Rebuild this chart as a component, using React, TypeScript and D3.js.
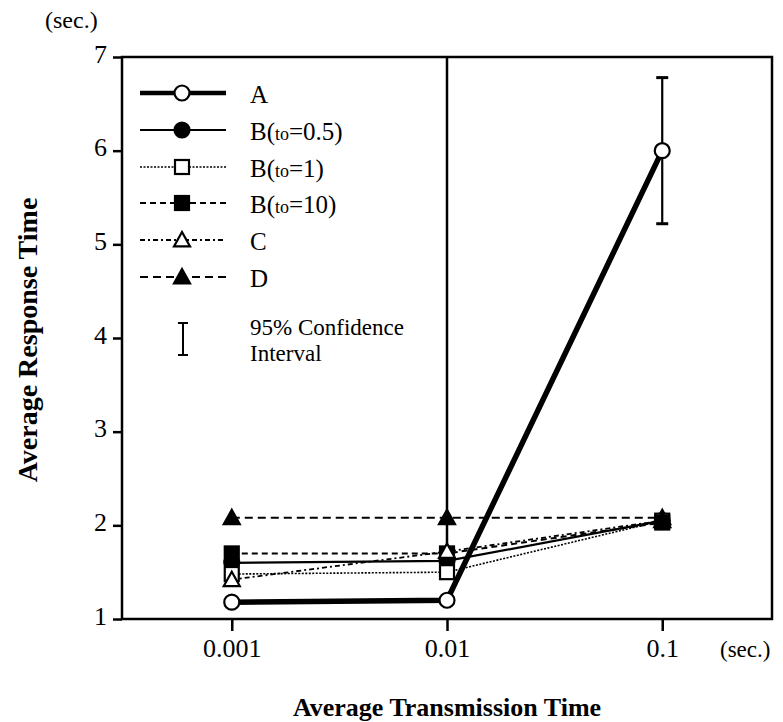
import React, { useEffect, useRef } from 'react';
import * as d3 from 'd3';

// Average transmission time (sec.)
const xValues = [0.001, 0.01, 0.1];
const xTickLabels = ['0.001', '0.01', '0.1'];
const yTicks = [1, 2, 3, 4, 5, 6, 7];

// Average response time (sec.) per scheme
const seriesA = [1.18, 1.2, 6.0];
const seriesB05 = [1.6, 1.62, 2.05];
const seriesB1 = [1.48, 1.5, 2.05];
const seriesB10 = [1.7, 1.7, 2.03];
const seriesC = [1.42, 1.72, 2.05];
const seriesD = [2.08, 2.08, 2.08];

// 95% confidence interval for A at 0.1
const ciA = { x: 0.1, low: 5.22, high: 6.78 };

const FONT = '"Liberation Serif", "Times New Roman", serif';

type Series = {
  key: string;
  label: string;
  sub?: string;
  rest?: string;
  values: number[];
  width: number;
  dash: string;
  marker: 'circle' | 'square' | 'triangle';
  filled: boolean;
};

const series: Series[] = [
  { key: 'A', label: 'A', values: seriesA, width: 5.5, dash: '', marker: 'circle', filled: false },
  { key: 'B05', label: 'B(', sub: 'to', rest: '=0.5)', values: seriesB05, width: 2.2, dash: '', marker: 'circle', filled: true },
  { key: 'B1', label: 'B(', sub: 'to', rest: '=1)', values: seriesB1, width: 1.6, dash: '2,1.5', marker: 'square', filled: false },
  { key: 'B10', label: 'B(', sub: 'to', rest: '=10)', values: seriesB10, width: 2, dash: '6,4', marker: 'square', filled: true },
  { key: 'C', label: 'C', values: seriesC, width: 1.8, dash: '5,3,2,3', marker: 'triangle', filled: false },
  { key: 'D', label: 'D', values: seriesD, width: 2, dash: '8,5', marker: 'triangle', filled: true },
];

// marker stacking per x position (last drawn on top)
const stackOrder = [
  ['D', 'B05', 'B10', 'B1', 'C', 'A'],
  ['D', 'B05', 'B10', 'B1', 'C', 'A'],
  ['D', 'B05', 'B1', 'C', 'B10', 'A'],
];

function drawMarker(g: any, kind: string, filled: boolean, cx: number, cy: number) {
  const fill = filled ? '#000' : '#fff';
  if (kind === 'circle') {
    g.append('circle').attr('cx', cx).attr('cy', cy).attr('r', 7.5)
      .attr('fill', fill).attr('stroke', '#000').attr('stroke-width', 2.2);
  } else if (kind === 'square') {
    g.append('rect').attr('x', cx - 7).attr('y', cy - 7).attr('width', 14).attr('height', 14)
      .attr('fill', fill).attr('stroke', '#000').attr('stroke-width', 2.2);
  } else {
    const s = 8;
    g.append('path')
      .attr('d', `M${cx},${cy - s} L${cx + s},${cy + s * 0.8} L${cx - s},${cy + s * 0.8} Z`)
      .attr('fill', fill).attr('stroke', '#000').attr('stroke-width', 2.2);
  }
}

const App = () => {
  const svgRef = useRef<SVGSVGElement>(null);

  useEffect(() => {
    const svg = d3.select(svgRef.current);
    svg.selectAll('*').remove();

    const left = 122, right = 772, top = 57, bottom = 619;

    const x = d3.scaleLog().domain([Math.pow(10, -3.51), Math.pow(10, -0.49)]).range([left, right]);
    const y = d3.scaleLinear().domain([1, 7]).range([bottom, top]);

    svg.append('rect').attr('width', 783).attr('height', 722).attr('fill', '#fff');

    // frame
    svg.append('rect')
      .attr('x', left).attr('y', top).attr('width', right - left).attr('height', bottom - top)
      .attr('fill', 'none').attr('stroke', '#000').attr('stroke-width', 2.5);

    // y axis
    const yAxis = svg.append('g').attr('transform', `translate(${left},0)`)
      .call(d3.axisLeft(y).tickValues(yTicks).tickSize(9).tickPadding(6).tickFormat(d3.format('d')));
    yAxis.select('.domain').remove();
    yAxis.selectAll('line').attr('stroke', '#000').attr('stroke-width', 2.5);
    yAxis.selectAll('text').attr('font-family', FONT).attr('font-size', 26).attr('fill', '#000')
      .attr('dy', '0.2em');

    // x axis
    const xAxis = svg.append('g').attr('transform', `translate(0,${bottom})`)
      .call(d3.axisBottom(x).tickValues(xValues).tickSize(12)
        .tickFormat((d, i) => xTickLabels[i]));
    xAxis.select('.domain').remove();
    xAxis.selectAll('line').attr('stroke', '#000').attr('stroke-width', 2.5);
    xAxis.selectAll('text').attr('font-family', FONT).attr('font-size', 26).attr('fill', '#000')
      .attr('y', 38).attr('dy', null);

    // unit labels
    svg.append('text').attr('x', 45).attr('y', 28).text('(sec.)')
      .attr('font-family', FONT).attr('font-size', 24);
    svg.append('text').attr('x', 720).attr('y', 657).text('(sec.)')
      .attr('font-family', FONT).attr('font-size', 23);

    // axis titles
    svg.append('text').attr('x', x(0.01)).attr('y', 716).attr('text-anchor', 'middle')
      .text('Average Transmission Time')
      .attr('font-family', FONT).attr('font-size', 26).attr('font-weight', 'bold');
    svg.append('text')
      .attr('transform', `translate(37,${(top + bottom) / 2 + 2}) rotate(-90)`)
      .attr('text-anchor', 'middle')
      .text('Average Response Time')
      .attr('font-family', FONT).attr('font-size', 28).attr('font-weight', 'bold');

    // vertical guide at 0.01
    svg.append('line')
      .attr('x1', x(0.01)).attr('x2', x(0.01))
      .attr('y1', top).attr('y2', y(seriesB10[1]))
      .attr('stroke', '#000').attr('stroke-width', 2.5);

    const line = d3.line<number>().x((d, i) => x(xValues[i])).y(d => y(d));

    const plot = svg.append('g');
    [...series].reverse().forEach(s => {
      plot.append('path').attr('d', line(s.values))
        .attr('fill', 'none').attr('stroke', '#000')
        .attr('stroke-width', s.width).attr('stroke-dasharray', s.dash || null);
    });

    // confidence interval
    const ci = svg.append('g').attr('stroke', '#000').attr('stroke-width', 2.2);
    ci.append('line').attr('x1', x(ciA.x)).attr('x2', x(ciA.x)).attr('y1', y(ciA.low)).attr('y2', y(ciA.high));
    ci.append('line').attr('x1', x(ciA.x) - 6).attr('x2', x(ciA.x) + 6).attr('y1', y(ciA.low)).attr('y2', y(ciA.low)).attr('stroke-width', 3);
    ci.append('line').attr('x1', x(ciA.x) - 6).attr('x2', x(ciA.x) + 6).attr('y1', y(ciA.high)).attr('y2', y(ciA.high)).attr('stroke-width', 3);

    // markers
    const marks = svg.append('g');
    xValues.forEach((xv, i) => {
      stackOrder[i].forEach(k => {
        const s = series.find(t => t.key === k);
        if (!s) return;
        drawMarker(marks, s.marker, s.filled, x(xv), y(s.values[i]));
      });
    });

    // legend
    const legend = svg.append('g');
    const rowY = [93, 130, 167, 203, 240, 277];
    series.forEach((s, i) => {
      const ly = rowY[i];
      legend.append('line').attr('x1', 140).attr('x2', 226).attr('y1', ly).attr('y2', ly)
        .attr('stroke', '#000').attr('stroke-width', s.width > 4 ? 4.5 : s.width)
        .attr('stroke-dasharray', s.dash || null);
      drawMarker(legend, s.marker, s.filled, 182, ly);
      const t = legend.append('text').attr('x', 250).attr('y', ly + 10)
        .attr('font-family', FONT).attr('font-size', 25);
      t.append('tspan').text(s.label);
      if (s.sub) {
        t.append('tspan').attr('font-size', 18).text(s.sub);
        t.append('tspan').text(s.rest || '');
      }
    });
    // CI legend symbol
    const ciL = legend.append('g').attr('stroke', '#000').attr('stroke-width', 2);
    ciL.append('line').attr('x1', 183).attr('x2', 183).attr('y1', 323).attr('y2', 355);
    ciL.append('line').attr('x1', 178).attr('x2', 188).attr('y1', 323).attr('y2', 323);
    ciL.append('line').attr('x1', 178).attr('x2', 188).attr('y1', 355).attr('y2', 355);
    legend.append('text').attr('x', 250).attr('y', 335).text('95% Confidence')
      .attr('font-family', FONT).attr('font-size', 23);
    legend.append('text').attr('x', 250).attr('y', 361).text('Interval')
      .attr('font-family', FONT).attr('font-size', 23);
  }, []);

  return (
    <svg
      ref={svgRef}
      width={783}
      height={722}
      style={{ position: 'absolute', left: 0, top: 0, background: '#fff' }}
    />
  );
};

export default App;
